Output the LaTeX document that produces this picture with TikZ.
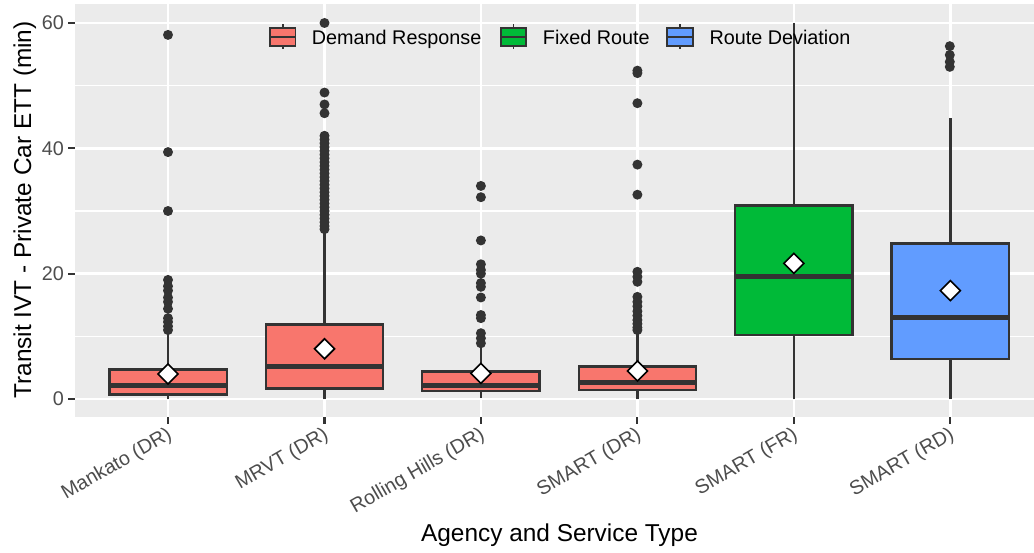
\documentclass[tikz,border=0pt]{standalone}
\usepackage{fontspec}
\setmainfont{Liberation Sans}
\definecolor{panelbg}{HTML}{EBEBEB}
\definecolor{ink}{HTML}{333333}
\definecolor{ticktext}{HTML}{4D4D4D}
\definecolor{drfill}{HTML}{F8766D}
\definecolor{frfill}{HTML}{00BA38}
\definecolor{rdfill}{HTML}{619CFF}
\newcommand\smallfont{\fontsize{19.8}{23}\selectfont}
\newcommand\titlefont{\fontsize{24.4}{28}\selectfont}
% one box: x, lower whisker, q1, median, q3, upper whisker, fill
\newcommand\boxstat[7]{%
  \draw[whisk] (#1,{py(#2)}) -- (#1,{py(#3)});
  \draw[whisk] (#1,{py(#5)}) -- (#1,{py(#6)});
  \draw[boxframe, fill=#7] ({#1-58.7},{py(#3)}) rectangle ({#1+58.7},{py(#5)});
  \draw[medline] ({#1-58.7},{py(#4)}) -- ({#1+58.7},{py(#4)});
}
% mean marker: white diamond
\newcommand\meanmark[2]{%
  \draw[meanstyle] (#1,{py(#2)}) +(-10,0) -- +(0,-10) -- +(10,0) -- +(0,10) -- cycle;
}
% legend key glyph
\newcommand\legkey[2]{%
  \draw[ink, line width=1.6] (#1,24) -- (#1,49.3);
  \draw[ink, line width=1.8, fill=#2] ({#1-12.7},28.3) rectangle ({#1+12.7},45.7);
  \draw[ink, line width=2.6] ({#1-12.7},37) -- ({#1+12.7},37);
}
\begin{document}
\begin{tikzpicture}[x=1pt, y=-1pt,
  declare function={py(\v)=399-6.267*\v;},
  majorgrid/.style={white, line width=2.4},
  minorgrid/.style={white, line width=1.2},
  tickmark/.style={ink, line width=2.2},
  whisk/.style={ink, line width=2.4},
  boxframe/.style={ink, line width=2.4},
  medline/.style={ink, line width=5},
  outlier/.style={fill=ink},
  meanstyle/.style={draw=black, fill=white, line width=1.6, line join=miter},
  ylab/.style={anchor=east, inner sep=0, text=ticktext, font=\smallfont},
  xlab/.style={anchor=base east, inner sep=0, rotate=30, text=ticktext, font=\smallfont},
  legtext/.style={anchor=base west, inner sep=0, text=black, font=\smallfont},
]
\clip (0,0) rectangle (1034,552);
\fill[white] (0,0) rectangle (1034,552);

% panel and grid
\fill[panelbg] (75,4) rectangle (1044,417);
\foreach \v in {10,30,50}
  \draw[minorgrid] (75,{py(\v)}) -- (1044,{py(\v)});
\foreach \v in {0,20,40,60}
  \draw[majorgrid] (75,{py(\v)}) -- (1044,{py(\v)});
\foreach \i in {0,...,5}
  \draw[majorgrid] ({168+156.46*\i},4) -- ({168+156.46*\i},417);

% axis ticks and tick labels
\foreach \v in {0,20,40,60} {
  \draw[tickmark] (68,{py(\v)}) -- (75,{py(\v)});
  \node[ylab] (ytick\v) at (64,{py(\v)}) {\v};
}
\foreach \i/\t in {0/Mankato (DR),1/MRVT (DR),2/Rolling Hills (DR),3/SMART (DR),4/SMART (FR),5/SMART (RD)} {
  \draw[tickmark] ({168+156.46*\i},417) -- ({168+156.46*\i},424);
  \node[xlab] (xtick\i) at ({168+156.46*\i+5},438) {\t};
}

% outliers
\foreach \v in {58.1,39.4,30.0,19.0,18.0,17.3,16.2,15.5,14.4,12.9,12.3,11.6,11.0}
  \fill[outlier] (168,{py(\v)}) circle (5);
\foreach \v in {60,48.9,47.0,45.6,42.0,41.4,40.8,40.2,39.6,39.0,38.4,37.8,37.2,36.6,36.0,35.4,34.8,34.2,33.6,33.0,32.4,31.8,31.2,30.6,30.0,29.4,28.8,28.2,27.6,27.1}
  \fill[outlier] (324.5,{py(\v)}) circle (5);
\foreach \v in {34.0,32.2,25.3,21.5,20.6,20.0,18.5,17.9,16.2,13.4,12.9,10.5,9.7,8.9}
  \fill[outlier] (480.9,{py(\v)}) circle (5);
\foreach \v in {52.4,52.0,47.2,37.4,32.6,20.3,19.5,18.7,16.3,15.5,14.8,14.0,13.3,12.6,12.0,11.4,11.0}
  \fill[outlier] (637.4,{py(\v)}) circle (5);
\foreach \v in {56.3,54.9,53.8,53.0}
  \fill[outlier] (949.8,{py(\v)}) circle (5);

% boxes
\boxstat{168}{0}{0.69}{2.19}{4.74}{10.5}{drfill}
\boxstat{324.5}{0}{1.7}{5.2}{11.9}{26.7}{drfill}
\boxstat{480.9}{0.2}{1.3}{2.1}{4.4}{8.3}{drfill}
\boxstat{637.4}{0}{1.39}{2.66}{5.16}{10.5}{drfill}
\boxstat{793.8}{0}{10.26}{19.5}{30.9}{60}{frfill}
\boxstat{950.3}{0}{6.4}{13.0}{24.8}{44.8}{rdfill}

% means
\meanmark{168}{3.99}
\meanmark{324.5}{8.0}
\meanmark{480.9}{4.1}
\meanmark{637.4}{4.47}
\meanmark{793.8}{21.65}
\meanmark{950.3}{17.3}

% legend
\legkey{282.7}{drfill}
\node[legtext] (legdr) at (311.7,44.3) {Demand Response};
\legkey{513.3}{frfill}
\node[legtext] (legfr) at (542.7,44.3) {Fixed Route};
\legkey{680}{rdfill}
\node[legtext] (legrd) at (709.3,44.3) {Route Deviation};

% axis titles
\node[anchor=base, inner sep=0, rotate=90, font=\titlefont] (ytitle) at (31,210) {Transit IVT - Private Car ETT (min)};
\node[anchor=base, inner sep=0, font=\titlefont] (xtitle) at (559.5,541.5) {Agency and Service Type};
\end{tikzpicture}
\end{document}
